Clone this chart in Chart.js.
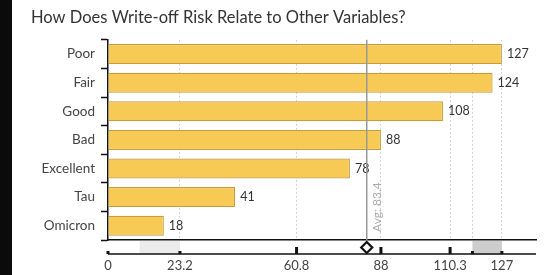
<!DOCTYPE html>
<html lang="en">
<head>
<meta charset="UTF-8">
<title>Write-off Risk</title>
<script src="https://cdn.jsdelivr.net/npm/chart.js"></script>
<style>
  body { margin: 0; background: #fff; }
  .wrap { position: relative; width: 544px; height: 275px; overflow: hidden; }
  .edge { position: absolute; left: 0; top: 0; width: 12px; height: 275px; background: #0b0b0b; }
  canvas { position: absolute; left: 0; top: 0; }
</style>
</head>
<body>
<div class="wrap">
  <div class="edge"></div>
  <canvas id="chart" width="544" height="275"></canvas>
</div>
<script>
// data
const categories = ["Poor", "Fair", "Good", "Bad", "Excellent", "Tau", "Omicron"];
const values = [127, 124, 108, 88, 78, 41, 18];
const tickValues = [0, 23.2, 60.8, 88, 110.3, 117.5, 127];
const tickLabels = ["0", "23.2", "60.8", "88", "110.3", "", "127"];
const tallMarks = [60.8, 88, 110.3];
const smallMarks = [0, 23.2, 117.5, 127];
const lowBand = [10.2, 23.2];
const highBand = [117.5, 127];
const avg = values.reduce((a, b) => a + b, 0) / values.length;

const FONT = "Lato";

// value labels, average line and the summary strip under the plot
const extras = {
    id: "extras",
    afterDatasetsDraw(chart) {
        const { ctx, chartArea: a } = chart;
        const xs = chart.scales.x;
        ctx.save();
        ctx.font = "12.5px " + FONT;
        ctx.fillStyle = "#333";
        ctx.textBaseline = "middle";
        chart.getDatasetMeta(0).data.forEach((bar, i) => {
            ctx.fillText(values[i], bar.x + 5, bar.y);
        });

        const ax = xs.getPixelForValue(avg);
        ctx.strokeStyle = "#999";
        ctx.lineWidth = 1.5;
        ctx.beginPath();
        ctx.moveTo(ax, a.top);
        ctx.lineTo(ax, a.bottom);
        ctx.stroke();

        ctx.translate(ax + 4, a.bottom - 8);
        ctx.rotate(-Math.PI / 2);
        ctx.font = "12px " + FONT;
        ctx.fillStyle = "#aaa";
        ctx.textBaseline = "top";
        ctx.textAlign = "left";
        ctx.fillText("Avg: " + avg.toFixed(1), 0, 0);
        ctx.restore();
    },
    afterDraw(chart) {
        const { ctx, chartArea: a } = chart;
        const xs = chart.scales.x;
        const px = v => xs.getPixelForValue(v);
        const top = a.bottom + 1;
        const yLine = a.bottom + 14;
        ctx.save();
        ctx.fillStyle = "#ebebeb";
        ctx.fillRect(px(lowBand[0]), top, px(lowBand[1]) - px(lowBand[0]), yLine - top);
        ctx.fillStyle = "#cdcdcd";
        ctx.fillRect(px(highBand[0]), top, px(highBand[1]) - px(highBand[0]), yLine - top + 1);

        ctx.strokeStyle = "#111";
        ctx.lineWidth = 1.5;
        ctx.beginPath();
        ctx.moveTo(a.left, yLine);
        ctx.lineTo(a.right, yLine);
        ctx.stroke();

        ctx.fillStyle = "#111";
        tallMarks.forEach(v => ctx.fillRect(px(v) - 1.5, yLine - 7, 3, 7));
        smallMarks.forEach(v => ctx.fillRect(px(v) - 1.5, yLine - 3, 3, 3));

        // diamond for the average
        const ax = px(avg), cy = a.bottom + 7.5, r = 5.5;
        ctx.beginPath();
        ctx.moveTo(ax, cy - r);
        ctx.lineTo(ax + r, cy);
        ctx.lineTo(ax, cy + r);
        ctx.lineTo(ax - r, cy);
        ctx.closePath();
        ctx.fillStyle = "#fff";
        ctx.fill();
        ctx.lineWidth = 2.2;
        ctx.strokeStyle = "#111";
        ctx.stroke();
        ctx.restore();
    }
};

new Chart(document.getElementById("chart"), {
    type: "bar",
    data: {
        labels: categories,
        datasets: [{
            data: values,
            backgroundColor: "rgb(246, 202, 84)",
            borderColor: "rgb(196, 156, 58)",
            borderWidth: 1.2,
            barPercentage: 0.7,
            categoryPercentage: 1
        }]
    },
    options: {
        indexAxis: "y",
        responsive: false,
        animation: false,
        layout: { padding: { left: 31, right: 8, top: 0, bottom: 0 } },
        plugins: {
            legend: { display: false },
            tooltip: { enabled: false },
            title: {
                display: true,
                text: "How Does Write-off Risk Relate to Other Variables?",
                align: "start",
                color: "#333",
                font: { family: FONT, size: 16.5, weight: "normal" },
                padding: { top: 8, bottom: 12 }
            }
        },
        scales: {
            x: {
                min: 0,
                max: 138,
                afterBuildTicks(s) { s.ticks = tickValues.map(v => ({ value: v })); },
                afterFit(s) { s.height = 35; },
                ticks: {
                    autoSkip: false,
                    maxRotation: 0,
                    color: "#444",
                    font: { family: FONT, size: 13 },
                    padding: 18,
                    callback: (v, i) => tickLabels[i]
                },
                grid: {
                    drawTicks: false,
                    lineWidth: 1,
                    color: c => (c.tick && c.tick.value > 0) ? "#d2d2d2" : "rgba(0,0,0,0)"
                },
                border: { color: "#111", width: 1.5, dash: [2, 2] }
            },
            y: {
                afterFit(s) { s.width = 77; },
                ticks: { color: "#444", font: { family: FONT, size: 13.5 }, padding: 6 },
                grid: { drawOnChartArea: false, tickLength: 7, tickColor: "#111", tickWidth: 1.5 },
                border: { color: "#111", width: 1.5 }
            }
        }
    },
    plugins: [extras]
});
</script>
</body>
</html>
